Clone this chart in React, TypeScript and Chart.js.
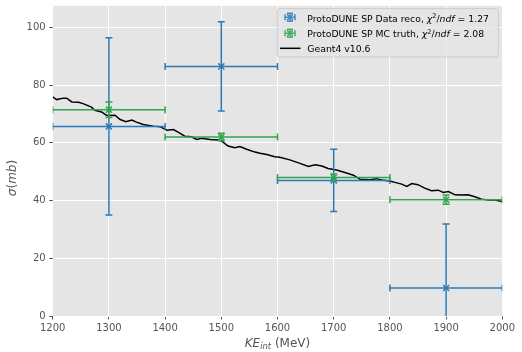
import React, { useEffect, useRef } from 'react';
import { Chart, registerables } from 'chart.js';

Chart.register(...registerables);

// ---- data ----
const binCenters = [1300, 1500, 1700, 1900];
const binHalfWidths = [100, 100, 100, 100];
const dataXS = [65.7, 86.5, 47.0, 9.7];
const dataErr = [30.7, 15.5, 10.8, 22.2];
const mcXS = [71.5, 62.0, 48.0, 40.3];
const mcErr = [2.7, 1.3, 1.2, 1.6];

const geantE = [
  1200, 1207, 1219, 1225, 1234, 1246, 1254, 1269, 1275, 1287, 1296, 1311, 1320, 1330, 1341, 1349,
  1361, 1379, 1391, 1403, 1415, 1423, 1435, 1447, 1456, 1465, 1480, 1495, 1501, 1512, 1524, 1533,
  1545, 1560, 1569, 1581, 1595, 1604, 1622, 1640, 1655, 1667, 1679, 1690, 1705, 1720, 1735, 1747,
  1765, 1776, 1785, 1800, 1809, 1821, 1830, 1839, 1850, 1862, 1874, 1886, 1895, 1904, 1916, 1928,
  1939, 1951, 1963, 1975, 1987, 2000,
];
const geantXS = [
  75.9, 75.0, 75.5, 75.5, 74.2, 74.1, 73.6, 72.4, 71.3, 70.7, 69.5, 69.6, 68.1, 67.3, 67.9, 67.2,
  66.4, 65.8, 65.6, 64.4, 64.6, 63.7, 62.3, 62.1, 61.2, 61.6, 61.2, 61.0, 60.6, 58.9, 58.3, 58.7,
  57.8, 56.8, 56.4, 56.0, 55.2, 55.0, 54.1, 52.9, 51.8, 52.4, 52.0, 51.1, 50.6, 49.7, 48.8, 47.4,
  47.2, 47.6, 47.1, 46.8, 46.3, 45.7, 44.9, 45.9, 45.5, 44.3, 43.4, 43.6, 42.8, 43.1, 42.0, 41.9,
  42.0, 41.3, 40.5, 40.2, 40.2, 39.7,
];

const xTicks = [1200, 1300, 1400, 1500, 1600, 1700, 1800, 1900, 2000];
const yTicks = [0, 20, 40, 60, 80, 100];
const xRange = [1200, 2000];
const yRange = [0, 107.5];

const BLUE = '#2a7ab9';
const GREEN = '#30a550';
const FONT = '"DejaVu Sans", sans-serif';
const LEG = 9.3;

type Seg = { text: string; italic?: boolean; size: number; dy?: number };

function measureRich(ctx: CanvasRenderingContext2D, segs: Seg[]) {
  let w = 0;
  for (const s of segs) {
    ctx.font = `${s.italic ? 'italic ' : ''}${s.size}px ${FONT}`;
    w += ctx.measureText(s.text).width;
  }
  return w;
}

function drawRich(ctx: CanvasRenderingContext2D, x: number, y: number, segs: Seg[]) {
  let cx = x;
  ctx.textAlign = 'left';
  ctx.textBaseline = 'alphabetic';
  for (const s of segs) {
    ctx.font = `${s.italic ? 'italic ' : ''}${s.size}px ${FONT}`;
    ctx.fillText(s.text, cx, y + (s.dy || 0));
    cx += ctx.measureText(s.text).width;
  }
}

const bgPlugin = {
  id: 'bg',
  beforeDraw(chart: any) {
    const { ctx, chartArea } = chart;
    ctx.save();
    ctx.fillStyle = '#ffffff';
    ctx.fillRect(0, 0, chart.width, chart.height);
    ctx.fillStyle = '#e5e5e5';
    ctx.fillRect(chartArea.left, chartArea.top, chartArea.right - chartArea.left, chartArea.bottom - chartArea.top);
    ctx.restore();
  },
};

function drawErrSeries(chart: any, ys: number[], errs: number[], color: string) {
  const { ctx } = chart;
  const xs = chart.scales.x;
  const yS = chart.scales.y;
  const cap = 3.5;
  ctx.strokeStyle = color;
  ctx.lineWidth = 1.5;
  binCenters.forEach((c, i) => {
    const px = xs.getPixelForValue(c);
    const py = yS.getPixelForValue(ys[i]);
    const x0 = xs.getPixelForValue(c - binHalfWidths[i]);
    const x1 = xs.getPixelForValue(c + binHalfWidths[i]);
    const y0 = yS.getPixelForValue(ys[i] - errs[i]);
    const y1 = yS.getPixelForValue(ys[i] + errs[i]);
    ctx.beginPath();
    ctx.moveTo(x0, py); ctx.lineTo(x1, py);
    ctx.moveTo(x0, py - cap); ctx.lineTo(x0, py + cap);
    ctx.moveTo(x1, py - cap); ctx.lineTo(x1, py + cap);
    ctx.moveTo(px, y0); ctx.lineTo(px, y1);
    ctx.moveTo(px - cap, y0); ctx.lineTo(px + cap, y0);
    ctx.moveTo(px - cap, y1); ctx.lineTo(px + cap, y1);
    ctx.stroke();
  });
}

const errPlugin = {
  id: 'errbars',
  afterDatasetsDraw(chart: any) {
    const { ctx, chartArea } = chart;
    ctx.save();
    ctx.beginPath();
    ctx.rect(chartArea.left, chartArea.top, chartArea.right - chartArea.left, chartArea.bottom - chartArea.top);
    ctx.clip();
    drawErrSeries(chart, dataXS, dataErr, BLUE);
    drawErrSeries(chart, mcXS, mcErr, GREEN);
    ctx.restore();
  },
};

function legendErrIcon(ctx: CanvasRenderingContext2D, cx: number, cy: number, color: string) {
  ctx.strokeStyle = color;
  ctx.globalAlpha = 0.85;
  ctx.lineWidth = 1.5;
  const h = 5, v = 4, c = 3;
  ctx.beginPath();
  ctx.moveTo(cx - h, cy); ctx.lineTo(cx + h, cy);
  ctx.moveTo(cx - h, cy - c); ctx.lineTo(cx - h, cy + c);
  ctx.moveTo(cx + h, cy - c); ctx.lineTo(cx + h, cy + c);
  ctx.moveTo(cx, cy - v); ctx.lineTo(cx, cy + v);
  ctx.moveTo(cx - c, cy - v); ctx.lineTo(cx + c, cy - v);
  ctx.moveTo(cx - c, cy + v); ctx.lineTo(cx + c, cy + v);
  ctx.moveTo(cx - 3, cy - 3); ctx.lineTo(cx + 3, cy + 3);
  ctx.moveTo(cx - 3, cy + 3); ctx.lineTo(cx + 3, cy - 3);
  ctx.stroke();
  ctx.globalAlpha = 1;
}

const textPlugin = {
  id: 'texts',
  afterDraw(chart: any) {
    const { ctx, chartArea } = chart;
    ctx.save();
    // legend frame
    const lx = 277.3, ly = 8.7, lw = 221, lh = 48.3, r = 2.5;
    ctx.beginPath();
    ctx.moveTo(lx + r, ly);
    ctx.lineTo(lx + lw - r, ly);
    ctx.quadraticCurveTo(lx + lw, ly, lx + lw, ly + r);
    ctx.lineTo(lx + lw, ly + lh - r);
    ctx.quadraticCurveTo(lx + lw, ly + lh, lx + lw - r, ly + lh);
    ctx.lineTo(lx + r, ly + lh);
    ctx.quadraticCurveTo(lx, ly + lh, lx, ly + lh - r);
    ctx.lineTo(lx, ly + r);
    ctx.quadraticCurveTo(lx, ly, lx + r, ly);
    ctx.closePath();
    ctx.fillStyle = 'rgba(229,229,229,0.8)';
    ctx.fill();
    ctx.strokeStyle = '#cccccc';
    ctx.lineWidth = 1;
    ctx.stroke();

    legendErrIcon(ctx, 290, 17.3, BLUE);
    legendErrIcon(ctx, 290, 33.3, GREEN);
    ctx.strokeStyle = '#000';
    ctx.lineWidth = 1.5;
    ctx.beginPath();
    ctx.moveTo(280, 48.3); ctx.lineTo(300.5, 48.3);
    ctx.stroke();

    ctx.fillStyle = '#000';
    const chi = (label: string, val: string): Seg[] => [
      { text: label, size: LEG },
      { text: 'χ', italic: true, size: LEG },
      { text: '2', italic: false, size: LEG * 0.7, dy: -3.8 },
      { text: '/', size: LEG },
      { text: 'ndf', italic: true, size: LEG },
      { text: ' = ' + val, size: LEG },
    ];
    drawRich(ctx, 307.3, 21.5, chi('ProtoDUNE SP Data reco, ', '1.27'));
    drawRich(ctx, 307.3, 37.3, chi('ProtoDUNE SP MC truth, ', '2.08'));
    drawRich(ctx, 307.3, 51.7, [{ text: 'Geant4 v10.6', size: LEG }]);

    // axis titles
    ctx.fillStyle = '#555555';
    const xl: Seg[] = [
      { text: 'KE', italic: true, size: 12 },
      { text: 'int', italic: true, size: 8.4, dy: 2.6 },
      { text: ' (MeV)', size: 12 },
    ];
    const xw = measureRich(ctx, xl);
    const xc = (chartArea.left + chartArea.right) / 2;
    drawRich(ctx, xc - xw / 2, 346.5, xl);

    const yl: Seg[] = [
      { text: 'σ', italic: true, size: 12 },
      { text: '(', size: 12 },
      { text: 'mb', italic: true, size: 12 },
      { text: ')', size: 12 },
    ];
    const yw = measureRich(ctx, yl);
    ctx.translate(16, 178);
    ctx.rotate(-Math.PI / 2);
    drawRich(ctx, -yw / 2, 0, yl);
    ctx.restore();
  },
};

export default function App() {
  const ref = useRef<HTMLCanvasElement | null>(null);
  useEffect(() => {
    document.body.style.margin = '0';
    const canvas = ref.current;
    if (!canvas) return;
    const tickFont = { family: FONT, size: 10 };
    const chart = new Chart(canvas, {
      type: 'scatter',
      data: {
        datasets: [
          {
            label: 'Geant4 v10.6',
            data: geantE.map((e, i) => ({ x: e, y: geantXS[i] })),
            showLine: true,
            borderColor: '#000000',
            borderWidth: 1.5,
            pointRadius: 0,
            tension: 0,
            order: 2,
          } as any,
          {
            label: 'ProtoDUNE SP Data reco',
            data: binCenters.map((c, i) => ({ x: c, y: dataXS[i] })),
            pointStyle: 'crossRot',
            pointRadius: 4.3,
            borderColor: BLUE,
            backgroundColor: BLUE,
            borderWidth: 1.5,
            order: 1,
          },
          {
            label: 'ProtoDUNE SP MC truth',
            data: binCenters.map((c, i) => ({ x: c, y: mcXS[i] })),
            pointStyle: 'crossRot',
            pointRadius: 4.3,
            borderColor: GREEN,
            backgroundColor: GREEN,
            borderWidth: 1.5,
            order: 0,
          },
        ],
      },
      options: {
        responsive: false,
        animation: false,
        devicePixelRatio: 1,
        layout: { padding: { top: 3.5, right: 19.7, left: 0, bottom: 0 } },
        plugins: { legend: { display: false }, tooltip: { enabled: false } },
        scales: {
          x: {
            type: 'linear',
            min: xRange[0],
            max: xRange[1],
            afterBuildTicks: (s: any) => { s.ticks = xTicks.map((v) => ({ value: v })); },
            afterFit: (s: any) => { s.height = 36; s.paddingLeft = 0; s.paddingRight = 0; },
            ticks: {
              color: '#555555', font: tickFont, padding: 3, maxRotation: 0, autoSkip: false,
              callback: (v: any) => String(v),
            },
            grid: { color: '#ffffff', lineWidth: 1, tickColor: '#555555', tickLength: 3.5, tickWidth: 1 },
            border: { display: false },
          },
          y: {
            type: 'linear',
            min: yRange[0],
            max: yRange[1],
            afterBuildTicks: (s: any) => { s.ticks = yTicks.map((v) => ({ value: v })); },
            afterFit: (s: any) => { s.width = 52.7; s.paddingTop = 0; s.paddingBottom = 0; },
            ticks: {
              color: '#555555', font: tickFont, padding: 3.5, autoSkip: false,
              callback: (v: any) => String(v),
            },
            grid: { color: '#ffffff', lineWidth: 1, tickColor: '#555555', tickLength: 3.5, tickWidth: 1 },
            border: { display: false },
          },
        },
      },
      plugins: [bgPlugin, errPlugin, textPlugin],
    });
    return () => chart.destroy();
  }, []);
  return (
    <div style={{ width: 522, height: 352 }}>
      <canvas ref={ref} width={522} height={352} style={{ display: 'block' }} />
    </div>
  );
}
